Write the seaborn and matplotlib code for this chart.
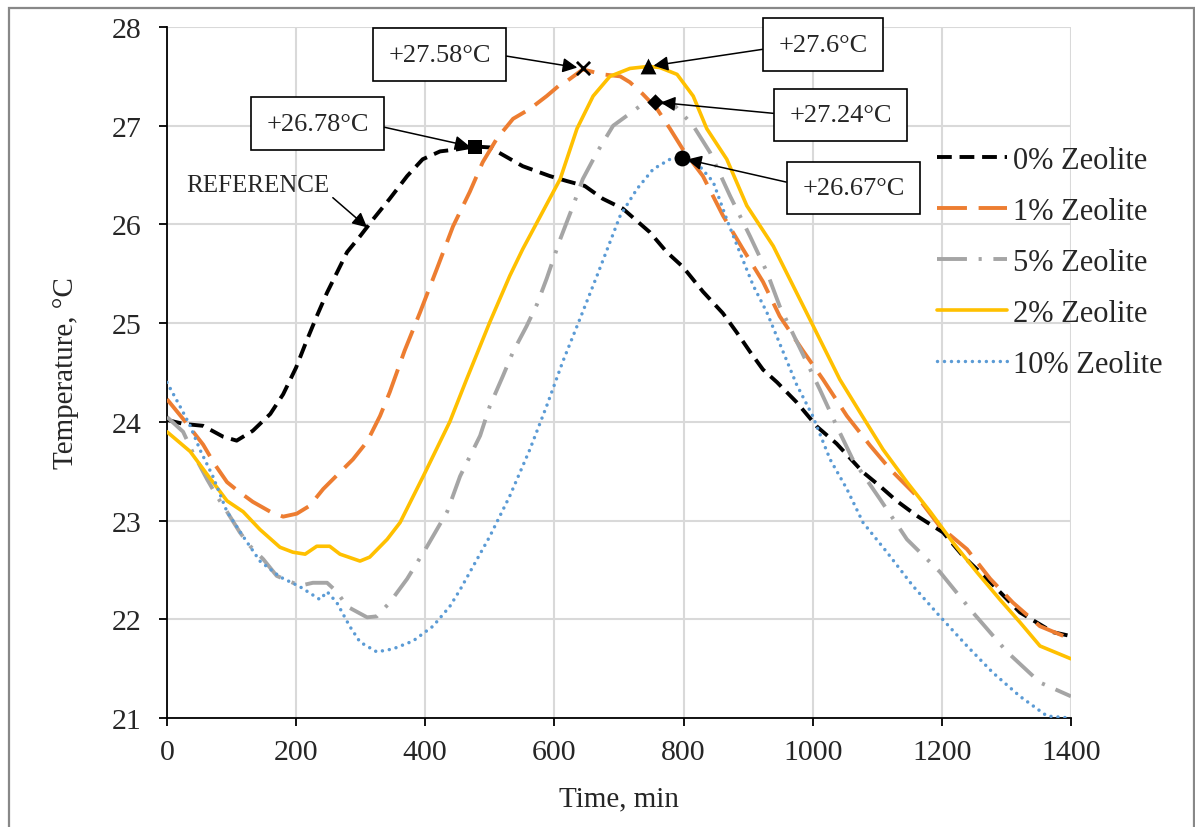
import seaborn as sns
import pandas as pd
import matplotlib.pyplot as plt
from matplotlib.patches import Rectangle

# temperature readings (time in min, temperature in degC)
t_0 = [0, 25, 56, 87, 108, 133, 160, 180, 200, 215, 232, 248, 279, 299, 319, 345, 372, 396, 423, 449, 475, 500,
       551, 593, 619, 647, 675, 706, 748, 774, 799, 830, 861, 882, 903, 923, 945, 975, 1007, 1037, 1078, 1104,
       1130, 1161, 1202, 1233, 1270, 1321, 1372, 1400]
temp_0 = [24.02, 23.98, 23.96, 23.85, 23.81, 23.91, 24.08, 24.28, 24.55, 24.8, 25.07, 25.31, 25.72, 25.88, 26.05,
          26.26, 26.49, 26.66, 26.74, 26.76, 26.79, 26.78, 26.59, 26.49, 26.44, 26.39, 26.26, 26.16, 25.92, 25.72,
          25.57, 25.32, 25.1, 24.91, 24.71, 24.53, 24.4, 24.2, 23.95, 23.78, 23.49, 23.35, 23.2, 23.05, 22.88,
          22.64, 22.41, 22.07, 21.87, 21.83]

t_1 = [0, 25, 56, 74, 93, 110, 133, 160, 180, 201, 221, 242, 268, 288, 310, 330, 345, 368, 392, 418, 443, 469, 489,
       511, 536, 562, 588, 606, 619, 644, 675, 702, 717, 737, 759, 779, 799, 830, 861, 892, 923, 949, 985, 1016,
       1053, 1089, 1120, 1161, 1197, 1239, 1275, 1310, 1352, 1400]
temp_1 = [24.23, 24.03, 23.77, 23.57, 23.39, 23.30, 23.19, 23.09, 23.04, 23.07, 23.15, 23.32, 23.49, 23.62, 23.80,
          24.06, 24.30, 24.72, 25.11, 25.55, 25.98, 26.33, 26.63, 26.87, 27.07, 27.17, 27.30, 27.40, 27.45, 27.57,
          27.52, 27.50, 27.44, 27.32, 27.17, 26.97, 26.76, 26.49, 26.09, 25.75, 25.42, 25.07, 24.72, 24.43, 24.06,
          23.76, 23.52, 23.25, 22.94, 22.71, 22.41, 22.17, 21.93, 21.80]

t_5 = [0, 25, 40, 62, 77, 93, 113, 129, 149, 170, 206, 226, 248, 263, 279, 310, 325, 345, 372, 403, 434, 454, 485,
       500, 520, 536, 557, 573, 588, 609, 629, 644, 666, 691, 712, 737, 756, 784, 815, 841, 872, 903, 929, 949,
       1011, 1037, 1062, 1104, 1146, 1197, 1248, 1301, 1352, 1400]
temp_5 = [24.05, 23.90, 23.69, 23.42, 23.25, 23.09, 22.88, 22.74, 22.61, 22.44, 22.34, 22.37, 22.37, 22.28, 22.13,
          22.02, 22.03, 22.17, 22.41, 22.74, 23.09, 23.45, 23.86, 24.16, 24.46, 24.71, 24.97, 25.19, 25.45, 25.85,
          26.19, 26.46, 26.73, 27.0, 27.10, 27.22, 27.24, 27.22, 27.0, 26.73, 26.29, 25.88, 25.52, 25.17, 24.33,
          23.96, 23.62, 23.22, 22.81, 22.48, 22.07, 21.67, 21.36, 21.22]

t_2 = [0, 36, 62, 93, 118, 144, 175, 195, 214, 232, 252, 268, 299, 314, 341, 361, 397, 438, 464, 500, 531, 551,
       609, 635, 660, 686, 717, 745, 763, 790, 815, 836, 867, 898, 939, 991, 1042, 1073, 1109, 1146, 1182, 1217,
       1254, 1290, 1321, 1352, 1400]
temp_2 = [23.90, 23.70, 23.47, 23.20, 23.09, 22.91, 22.73, 22.68, 22.66, 22.74, 22.74, 22.66, 22.59, 22.63, 22.81,
          22.98, 23.45, 24.0, 24.43, 25.01, 25.48, 25.75, 26.46, 26.97, 27.30, 27.50, 27.58, 27.60, 27.59, 27.52,
          27.30, 26.97, 26.66, 26.19, 25.78, 25.10, 24.43, 24.10, 23.72, 23.39, 23.09, 22.78, 22.48, 22.20, 21.97,
          21.73, 21.60]

t_10 = [0, 20, 36, 51, 71, 93, 118, 144, 175, 206, 237, 248, 263, 283, 299, 325, 350, 381, 412, 438, 454, 500,
        531, 562, 588, 613, 640, 666, 702, 728, 753, 779, 797, 825, 846, 867, 887, 908, 929, 975, 1000, 1027,
        1053, 1078, 1115, 1155, 1197, 1239, 1279, 1321, 1363, 1400]
temp_10 = [24.40, 24.16, 23.96, 23.72, 23.45, 23.09, 22.84, 22.59, 22.43, 22.33, 22.20, 22.28, 22.17, 21.93, 21.77,
           21.67, 21.70, 21.78, 21.93, 22.13, 22.30, 22.84, 23.25, 23.72, 24.16, 24.61, 25.05, 25.48, 26.09, 26.36,
           26.56, 26.66, 26.68, 26.59, 26.43, 26.05, 25.72, 25.38, 25.11, 24.38, 24.06, 23.62, 23.32, 22.98, 22.68,
           22.34, 22.03, 21.73, 21.46, 21.22, 21.02, 21.0]

series_names = ['0% Zeolite', '1% Zeolite', '5% Zeolite', '2% Zeolite', '10% Zeolite']
series_t = [t_0, t_1, t_5, t_2, t_10]
series_temp = [temp_0, temp_1, temp_5, temp_2, temp_10]

# peak values marked on the chart
peak_time = [477, 644, 745, 756, 797]
peak_temp = [26.78, 27.58, 27.60, 27.24, 26.67]
peak_text = ['+26.78°C', '+27.58°C', '+27.6°C', '+27.24°C', '+26.67°C']

colors = ['#000000', '#ED7D31', '#A5A5A5', '#FFC000', '#5B9BD5']
styles = [(0, (3.8, 2.0)), (0, (7.7, 3.0)), (0, (7.7, 3.0, 0.8, 3.0)), '-', (0, (0.01, 2.0))]
widths = [2.8, 2.8, 2.8, 2.6, 2.5]
caps = ['butt', 'butt', 'butt', 'butt', 'round']
markers = ['s', 'x', '^', 'D', 'o']
marker_size = [110, 90, 130, 70, 130]
box_pos = [(233, 27.02), (422, 27.72), (1016, 27.82), (1043, 27.11), (1063, 26.37)]
arrow_rel = [(1, 0.5), (1, 0.55), (0, 0.4), (0, 0.5), (0, 0.6)]

sns.set_style('white')
plt.rcParams['font.family'] = ['Liberation Serif', 'DejaVu Serif']

fig = plt.figure(figsize=(11.95, 8.28), dpi=100)
ax = fig.add_axes([0.1397, 0.1316, 0.7565, 0.8346])

for name, tt, yy, c, ls, w, cap in zip(series_names, series_t, series_temp, colors, styles, widths, caps):
    df = pd.DataFrame({'Time': tt, 'Temp': yy})
    sns.lineplot(data=df, x='Time', y='Temp', ax=ax, color=c, linestyle=ls, lw=w,
                 dash_capstyle=cap, label=name, zorder=3)

for tt, yy, m, s in zip(peak_time, peak_temp, markers, marker_size):
    sns.scatterplot(x=[tt], y=[yy], marker=m, s=s, color='black', edgecolor='black',
                    linewidth=2 if m == 'x' else 0, ax=ax, zorder=5, legend=False)

for txt, (bx, by), tx, ty, rp in zip(peak_text, box_pos, peak_time, peak_temp, arrow_rel):
    ax.annotate(txt, xy=(tx, ty), xytext=(bx, by), ha='center', va='center', fontsize=19,
                bbox=dict(boxstyle='square,pad=0.58', fc='white', ec='black', lw=1.2),
                arrowprops=dict(arrowstyle='-|>', color='black', lw=1.1, mutation_scale=22,
                                shrinkA=0, shrinkB=4, relpos=rp),
                annotation_clip=False, zorder=6)

ax.annotate('REFERENCE', xy=(310, 25.97), xytext=(141, 26.40), ha='center', va='center', fontsize=18,
            arrowprops=dict(arrowstyle='-|>', color='black', lw=1.1, mutation_scale=22,
                            shrinkA=0, shrinkB=0, relpos=(1, 0.05)), zorder=6)

ax.set_xlim(0, 1400)
ax.set_ylim(21, 28)
ax.set_xticks(range(0, 1401, 200))
ax.set_yticks(range(21, 29))
ax.grid(True, color='#d9d9d9', lw=1.5)
ax.set_axisbelow(True)
for side in ['top', 'right']:
    ax.spines[side].set_visible(False)
for side in ['left', 'bottom']:
    ax.spines[side].set_color('black')
    ax.spines[side].set_linewidth(1.3)
ax.tick_params(axis='both', direction='out', length=6, width=1.3, color='black',
               labelsize=21.5, bottom=True, left=True)
ax.tick_params(axis='x', pad=9)
ax.tick_params(axis='y', pad=12)

ax.set_xlabel('Time, min', fontsize=21)
ax.set_ylabel('Temperature, °C', fontsize=21)
ax.xaxis.set_label_coords(0.5, -0.097)
ax.yaxis.set_label_coords(-0.097, 0.5)

ax.legend(loc='upper left', bbox_to_anchor=(0.7841, 0.8225), bbox_transform=fig.transFigure,
          frameon=False, fontsize=22, handlelength=2.3, handletextpad=0.2, labelspacing=0.72,
          borderaxespad=0, borderpad=0)

fig.add_artist(Rectangle((0.0075, -0.01), 0.9916, 0.999, transform=fig.transFigure,
                         fill=False, ec='#888888', lw=1.6))

fig.savefig('out.png', dpi=100)
